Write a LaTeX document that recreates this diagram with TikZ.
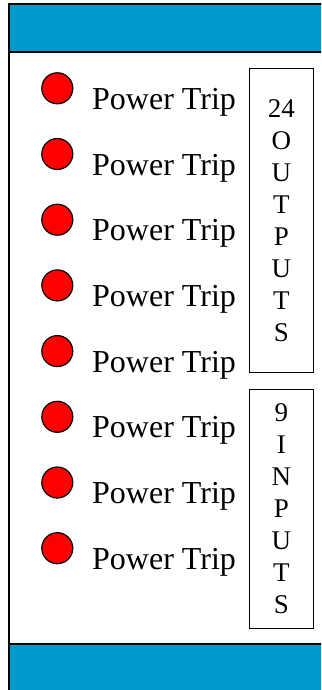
\documentclass[tikz,border=0pt]{standalone}
\usepackage{fontspec}
\setmainfont{Liberation Serif}
\usepackage{tikz}
\usetikzlibrary{positioning}
\definecolor{panel blue}{rgb}{0, 0.6, 0.8}
\definecolor{led red}{rgb}{1, 0, 0}

\begin{document}
\begin{tikzpicture}[x=1pt, y=-1pt,
		power led/.style = {circle, draw, line width=1.2pt, fill=led red, inner sep=0pt, minimum size=31pt},
		trip label/.style = {anchor=base west, inner sep=0pt, font=\fontsize{32}{38}\selectfont},
		io box/.style = {draw, line width=1pt, inner sep=0pt, minimum width=64pt, align=center,
			font=\fontsize{27}{32}\selectfont}]
			\useasboundingbox (0, 0) rectangle (321, 690);
			\clip (0, 0) rectangle (321, 690);
			% panel frame
			\draw[line width=1.5pt] (9, 4) rectangle (340, 710);
			% top and bottom bars
			\filldraw[fill=panel blue, line width=1.5pt] (9, 4) rectangle (340, 52);
			\filldraw[fill=panel blue, line width=1.5pt] (9, 644) rectangle (340, 710);
			% trip lamps
			\node[power led] (led1) at (57.3, 88.3) {};
			\node[power led] (led2) at (57.3, 154) {};
			\node[power led] (led3) at (57.3, 219.7) {};
			\node[power led] (led4) at (57.3, 285.4) {};
			\node[power led] (led5) at (57.3, 351.1) {};
			\node[power led] (led6) at (57.3, 416.8) {};
			\node[power led] (led7) at (57.3, 482.5) {};
			\node[power led] (led8) at (57.3, 548.2) {};
			% lamp labels
			\node[trip label] (trip1) at (92, 109.3) {Power Trip};
			\node[trip label] (trip2) at (92, 175) {Power Trip};
			\node[trip label] (trip3) at (92, 240.7) {Power Trip};
			\node[trip label] (trip4) at (92, 306.4) {Power Trip};
			\node[trip label] (trip5) at (92, 372.1) {Power Trip};
			\node[trip label] (trip6) at (92, 437.8) {Power Trip};
			\node[trip label] (trip7) at (92, 503.5) {Power Trip};
			\node[trip label] (trip8) at (92, 569.2) {Power Trip};
			% outputs and inputs
			\node[io box, minimum height=304pt] (outputs) at (281.3, 220.3)
				{24\\O\\U\\T\\P\\U\\T\\S};
			\node[io box, minimum height=239pt] (inputs) at (281.3, 508.6)
				{9\\I\\N\\P\\U\\T\\S};
		\end{tikzpicture}
\end{document}
